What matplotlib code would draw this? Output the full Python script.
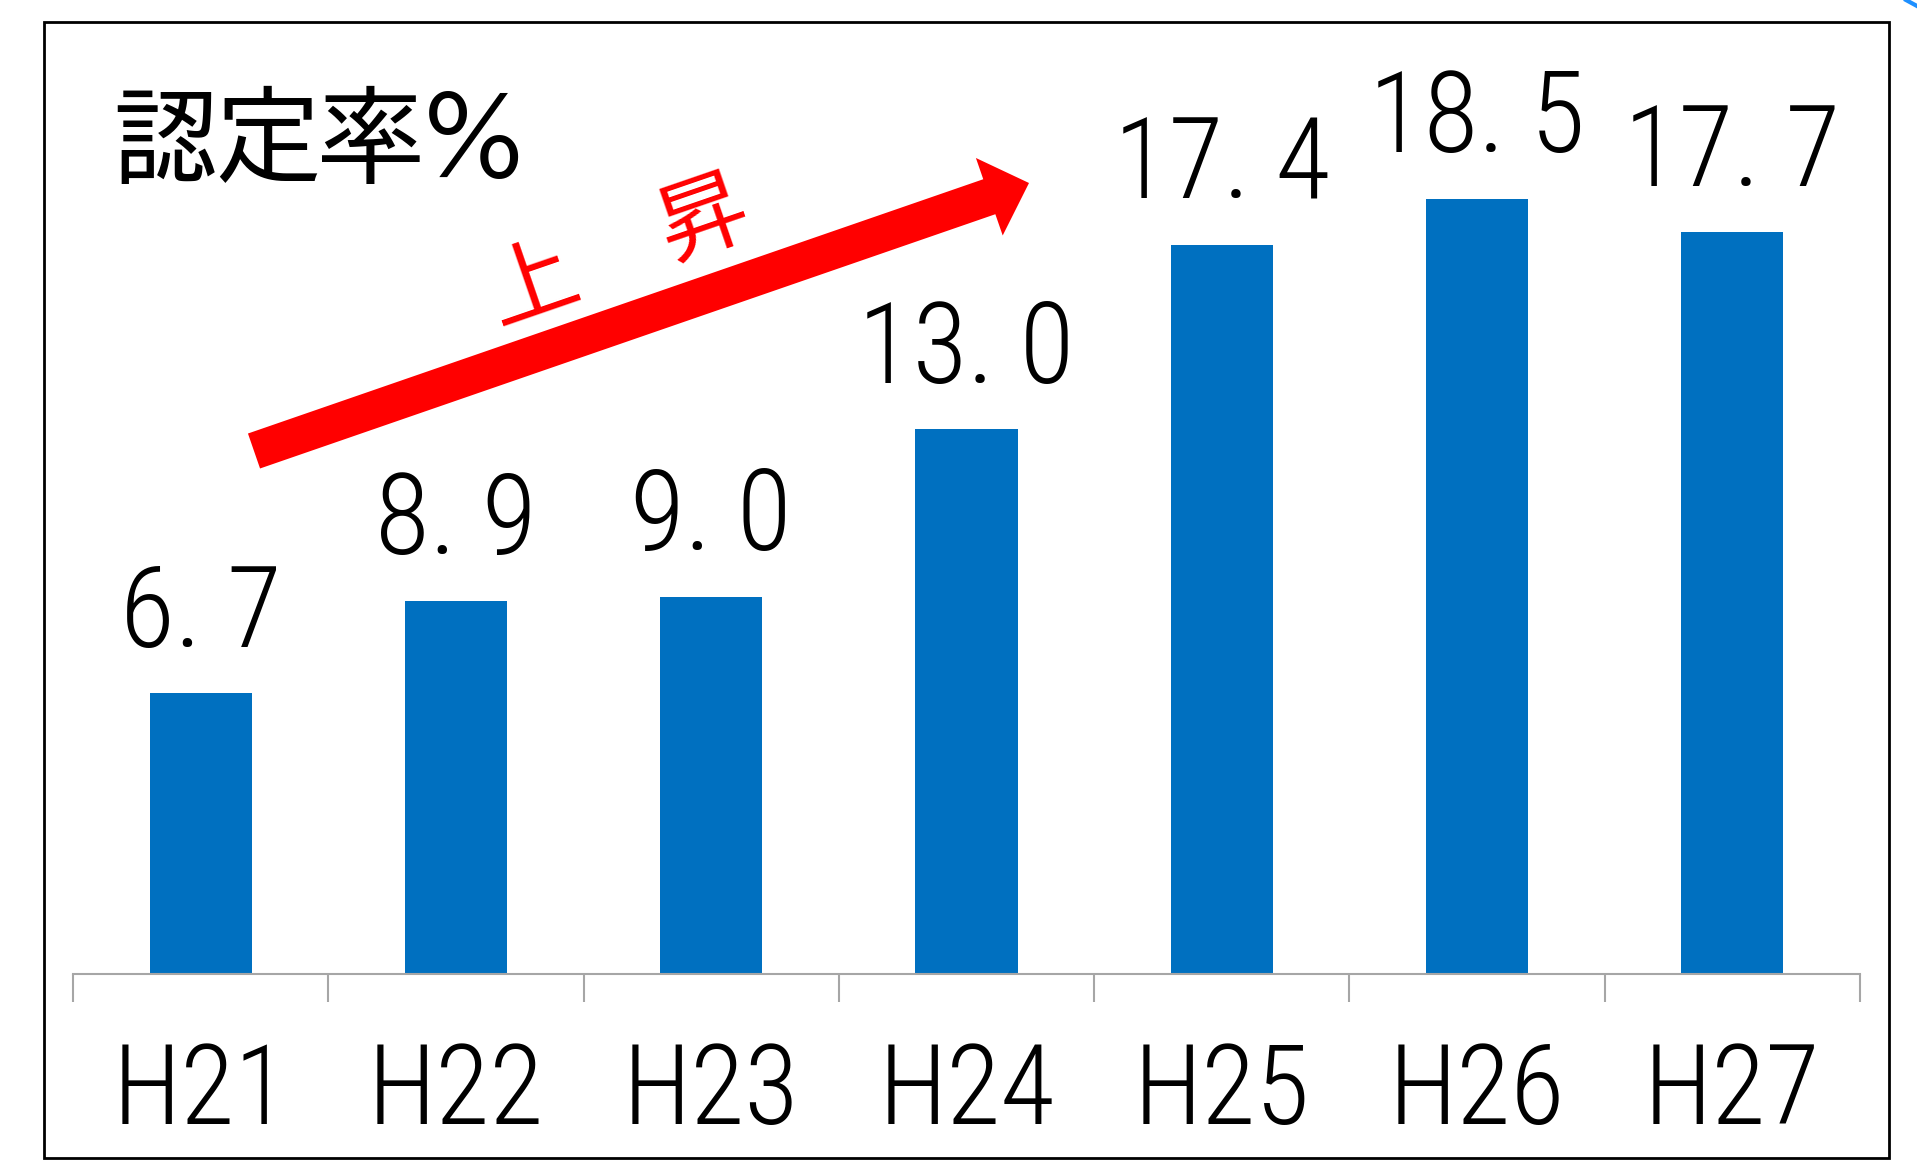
import matplotlib
matplotlib.use("Agg")
import matplotlib.pyplot as plt
from matplotlib import font_manager
from matplotlib.patches import FancyArrow, Rectangle
from matplotlib.transforms import IdentityTransform
from matplotlib.lines import Line2D

categories = ["H21", "H22", "H23", "H24", "H25", "H26", "H27"]
values = [6.7, 8.9, 9.0, 13.0, 17.4, 18.5, 17.7]
title_text = "認定率%"
trend_chars = ["上", "昇"]

names = {f.name for f in font_manager.fontManager.ttflist}
NUM_FONT = next((n for n in ["Roboto Condensed", "PT Sans Narrow", "Archivo Narrow", "DejaVu Sans"] if n in names))
JP_FONT = [n for n in ["BIZ UDPGothic", "Noto Sans CJK JP"] if n in names] + ["DejaVu Sans"]
NUM_WEIGHT = 300

W, H = 1917, 1161
fig = plt.figure(figsize=(W / 100, H / 100), dpi=100)
fig.patch.set_facecolor("white")

ax_left, ax_right, ax_base, ax_top = 73, 1860, 974, 22
ax = fig.add_axes([ax_left / W, (H - ax_base) / H, (ax_right - ax_left) / W, (ax_base - ax_top) / H])
x = list(range(len(categories)))
bars = ax.bar(x, values, width=0.4, color="#0070C0", zorder=2)
ax.set_xlim(-0.5, len(categories) - 0.5)
ax.set_ylim(0, 22.72)
ax.set_facecolor("none")

for s in ["top", "right", "left"]:
    ax.spines[s].set_visible(False)
ax.spines["bottom"].set_color("#a6a6a6")
ax.spines["bottom"].set_linewidth(1.5)
ax.set_yticks([])

ax.set_xticks(x)
ax.set_xticklabels(categories, fontfamily=NUM_FONT, fontsize=80, fontweight=NUM_WEIGHT)
ax.tick_params(axis="x", which="major", length=0, pad=48)
ax.set_xticks([i - 0.5 for i in range(len(categories) + 1)], minor=True)
ax.tick_params(axis="x", which="minor", length=20, width=1.5, color="#a6a6a6")

labels = [f"{v:.1f}".replace(".", ". ") for v in values]
ax.bar_label(bars, labels=labels, padding=17, fontfamily=NUM_FONT, fontsize=81, fontweight=NUM_WEIGHT)

fig.add_artist(Rectangle((44, H - 1158), 1889 - 44, 1158 - 22, transform=IdentityTransform(),
                         fill=False, edgecolor="black", linewidth=2))

fig.text(114 / W, 1 - 137 / H, title_text, fontfamily=JP_FONT, fontsize=74,
         ha="left", va="center", color="black")

tx, ty = 254, H - 451
hx, hy = 1029, H - 183
fig.add_artist(FancyArrow(tx, ty, hx - tx, hy - ty, width=37, head_width=82, head_length=42,
                          length_includes_head=True, color="#ff0000", linewidth=0,
                          transform=IdentityTransform()))
fig.text(532 / W, 1 - 281 / H, trend_chars[0], fontfamily=JP_FONT, fontsize=62, color="#ff0000",
         rotation=19, ha="center", va="center", rotation_mode="anchor")
fig.text(702 / W, 1 - 215 / H, trend_chars[1], fontfamily=JP_FONT, fontsize=62, color="#ff0000",
         rotation=19, ha="center", va="center", rotation_mode="anchor")

fig.add_artist(Line2D([1906, 1917], [H, H - 6], color="#1e90ff", linewidth=3, transform=IdentityTransform()))

fig.savefig("out.png", dpi=100)
